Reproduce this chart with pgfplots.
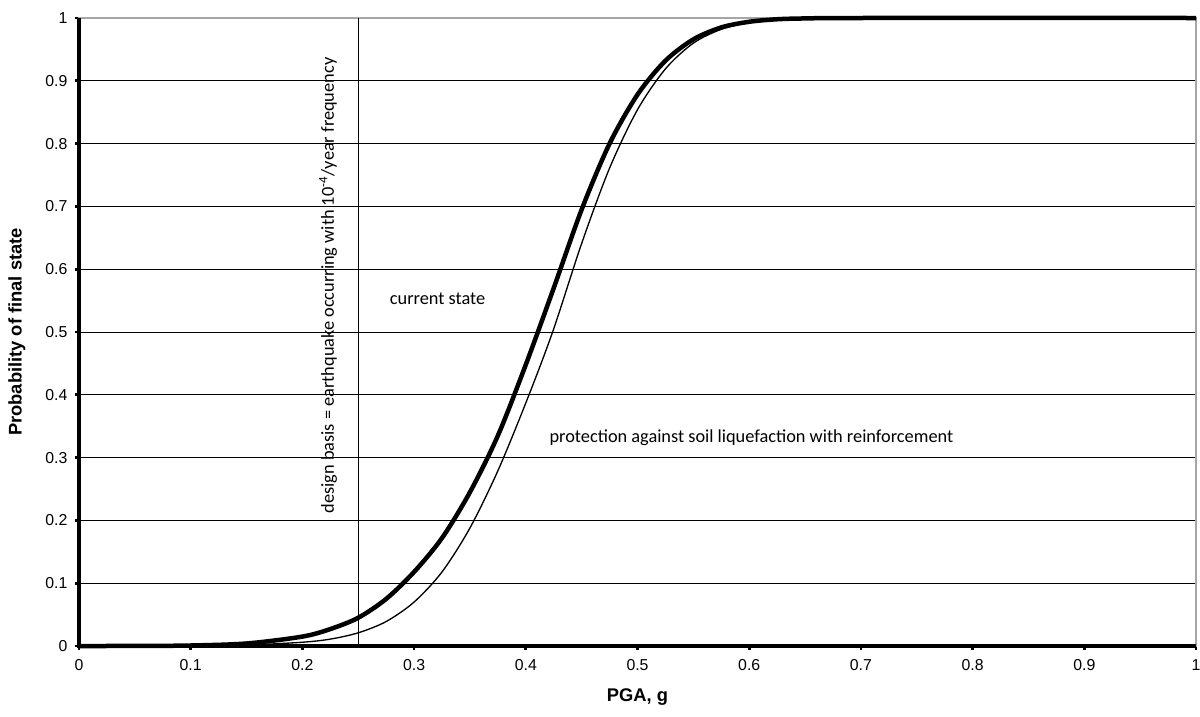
\documentclass[border=0pt]{standalone}
\usepackage{fontspec}
\setmainfont{Liberation Sans}
\newfontfamily\calfont{Carlito}
\usepackage{pgfplots}
\pgfplotsset{compat=1.18}
\begin{document}
\begin{tikzpicture}
\begin{axis}[
  scale only axis,
  width=670.2pt, height=376.8pt,
  xmin=0, xmax=1, ymin=0, ymax=1,
  xtick={0,0.1,...,1.01}, ytick={0,0.1,...,1.01},
  xtick pos=left, ytick pos=left,
  tick align=outside,
  major tick length=2.4pt,
  every tick/.style={black, line width=1.6pt},
  /pgf/number format/assume math mode=true,
  /pgf/number format/.cd, fixed, precision=1, /pgfplots/.cd,
  ticklabel style={font=\fontsize{9.5}{11}\selectfont},
  xticklabel style={yshift=-2pt},
  yticklabel style={xshift=-1pt},
  ymajorgrids,
  major grid style={black, line width=0.6pt},
  axis line style={gray!70, line width=0.8pt},
  xlabel={\bfseries PGA, g},
  ylabel={\bfseries Probability of final state},
  label style={font=\fontsize{11}{13}\selectfont},
  xlabel style={at={(axis description cs:0.5,-0.0815)}, anchor=center},
  ylabel style={at={(axis description cs:-0.0555,0.5)}, anchor=center, rotate=0},
  clip=false,
]
\draw[black, line width=2.4pt] (axis cs:0,1) -- (axis cs:0,0) -- (axis cs:1,0);
\addplot[black, line width=0.9pt] coordinates {(0.25,0) (0.25,1)};
% reinforcement (thin)
\addplot[black, line width=0.8pt, smooth] coordinates {
(0,0) (0.05,0) (0.1,0.0002) (0.15,0.0015) (0.2,0.006) (0.225,0.011) (0.25,0.021) (0.275,0.039) (0.3,0.07) (0.325,0.118) (0.35,0.188) (0.375,0.279) (0.4,0.387) (0.424,0.5) (0.45,0.641) (0.475,0.761) (0.5,0.854) (0.525,0.919) (0.55,0.96) (0.575,0.982) (0.6,0.993) (0.625,0.997) (0.65,0.999) (0.7,1) (1,1)};
% current state (thick)
\addplot[black, line width=2.7pt, smooth] coordinates {
(0,0) (0.05,0.0001) (0.1,0.0008) (0.15,0.004) (0.2,0.015) (0.225,0.027) (0.25,0.045) (0.275,0.075) (0.3,0.118) (0.325,0.172) (0.35,0.245) (0.375,0.335) (0.4,0.448) (0.425,0.57) (0.45,0.695) (0.475,0.8) (0.5,0.878) (0.525,0.932) (0.55,0.966) (0.575,0.985) (0.6,0.994) (0.625,0.998) (0.65,0.9993) (0.7,1) (1,1)};
\node[font=\calfont\fontsize{11}{13}\selectfont] at (axis cs:0.321,0.553) {current state};
\node[font=\calfont\fontsize{11}{13}\selectfont] at (axis cs:0.602,0.332) {protection against soil liquefaction with reinforcement};
\node[rotate=90, font=\calfont\fontsize{11}{13}\selectfont] at (axis cs:0.223,0.574) {design basis = earthquake occurring with 10\textsuperscript{-4}/year frequency};
\end{axis}
\pgfresetboundingbox
\path (-47.4pt,-42pt) rectangle (672.6pt,387.6pt);
\end{tikzpicture}
\end{document}
